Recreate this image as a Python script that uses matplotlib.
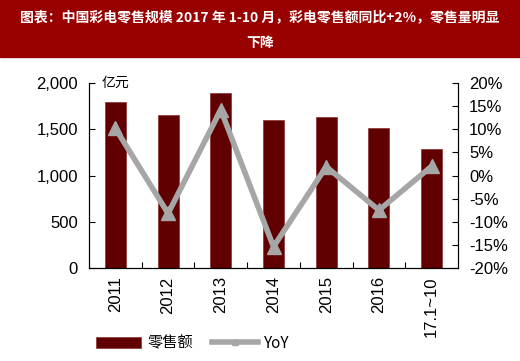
import matplotlib
matplotlib.use('Agg')
import matplotlib.pyplot as plt
from matplotlib.patches import Rectangle
from matplotlib.ticker import FuncFormatter, FixedLocator

plt.rcParams['font.family'] = ['Liberation Sans', 'Noto Sans CJK SC', 'DejaVu Sans']

# data
years = ['2011', '2012', '2013', '2014', '2015', '2016', '17.1~10']
sales = [1790, 1655, 1890, 1605, 1632, 1518, 1286]
yoy = [10.2, -8.2, 14.2, -15.4, 1.9, -7.5, 2.0]

title = '图表：中国彩电零售规模 2017 年 1-10 月，彩电零售额同比+2%，零售量明显\n下降'

fig = plt.figure(figsize=(5.2, 3.61), dpi=100)

# red title band
fig.patches.append(Rectangle((0, 1 - 57/361), 1, 57/361, transform=fig.transFigure,
                             color='#990000', zorder=0))
fig.text(0.5, 1 - 30/361, title, color='white', ha='center', va='center',
         fontsize=10, fontweight='bold', linespacing=2.1,
         family=['Noto Sans CJK SC', 'DejaVu Sans'])

ax = fig.add_axes([89/520, 1 - 268/361, (458-89)/520, (268-83)/361])
x = list(range(len(years)))
b = ax.bar(x, sales, width=0.4, color='#600000', edgecolor='#8a3030', linewidth=0.5,
           label='零售额', zorder=2)
ax.set_ylim(0, 2000)
ax.set_xlim(-0.5, len(years) - 0.5)
ax.set_yticks([0, 500, 1000, 1500, 2000])
ax.yaxis.set_major_formatter(FuncFormatter(lambda v, p: f'{int(v):,}'))
ax.set_xticks(x)
ax.set_xticklabels(years, rotation=90, fontsize=12)
ax.tick_params(axis='x', length=0, pad=6)
ax.xaxis.set_minor_locator(FixedLocator([i + 0.5 for i in range(len(years) - 1)]))
ax.tick_params(axis='x', which='minor', direction='in', length=4, width=0.8)
ax.tick_params(axis='y', direction='in', length=4, labelsize=12, pad=8)
ax.spines['top'].set_visible(False)
ax.text(0.035, 1.0, '亿元', transform=ax.transAxes, fontsize=10, va='center',
        family=['Noto Sans CJK SC', 'DejaVu Sans'])

ax2 = ax.twinx()
ln, = ax2.plot(x, yoy, color='#a6a6a6', linewidth=4, marker='^', markersize=10,
               label='YoY', zorder=3)
ax2.set_ylim(-20, 20)
ax2.set_yticks(range(-20, 21, 5))
ax2.yaxis.set_major_formatter(FuncFormatter(lambda v, p: f'{int(v)}%'))
ax2.tick_params(axis='y', direction='in', length=4, labelsize=12, pad=8)
ax2.spines['top'].set_visible(False)

fig.legend([b, ln], ['零售额', 'YoY'], loc='center', bbox_to_anchor=(0.37, 1 - 343/361),
           ncol=2, frameon=False, handlelength=3.0, columnspacing=1.2,
           handletextpad=0.4, markerscale=0.5,
           prop={'family': ['Noto Sans CJK SC', 'DejaVu Sans'], 'size': 11})

fig.savefig('out.png', dpi=100)
